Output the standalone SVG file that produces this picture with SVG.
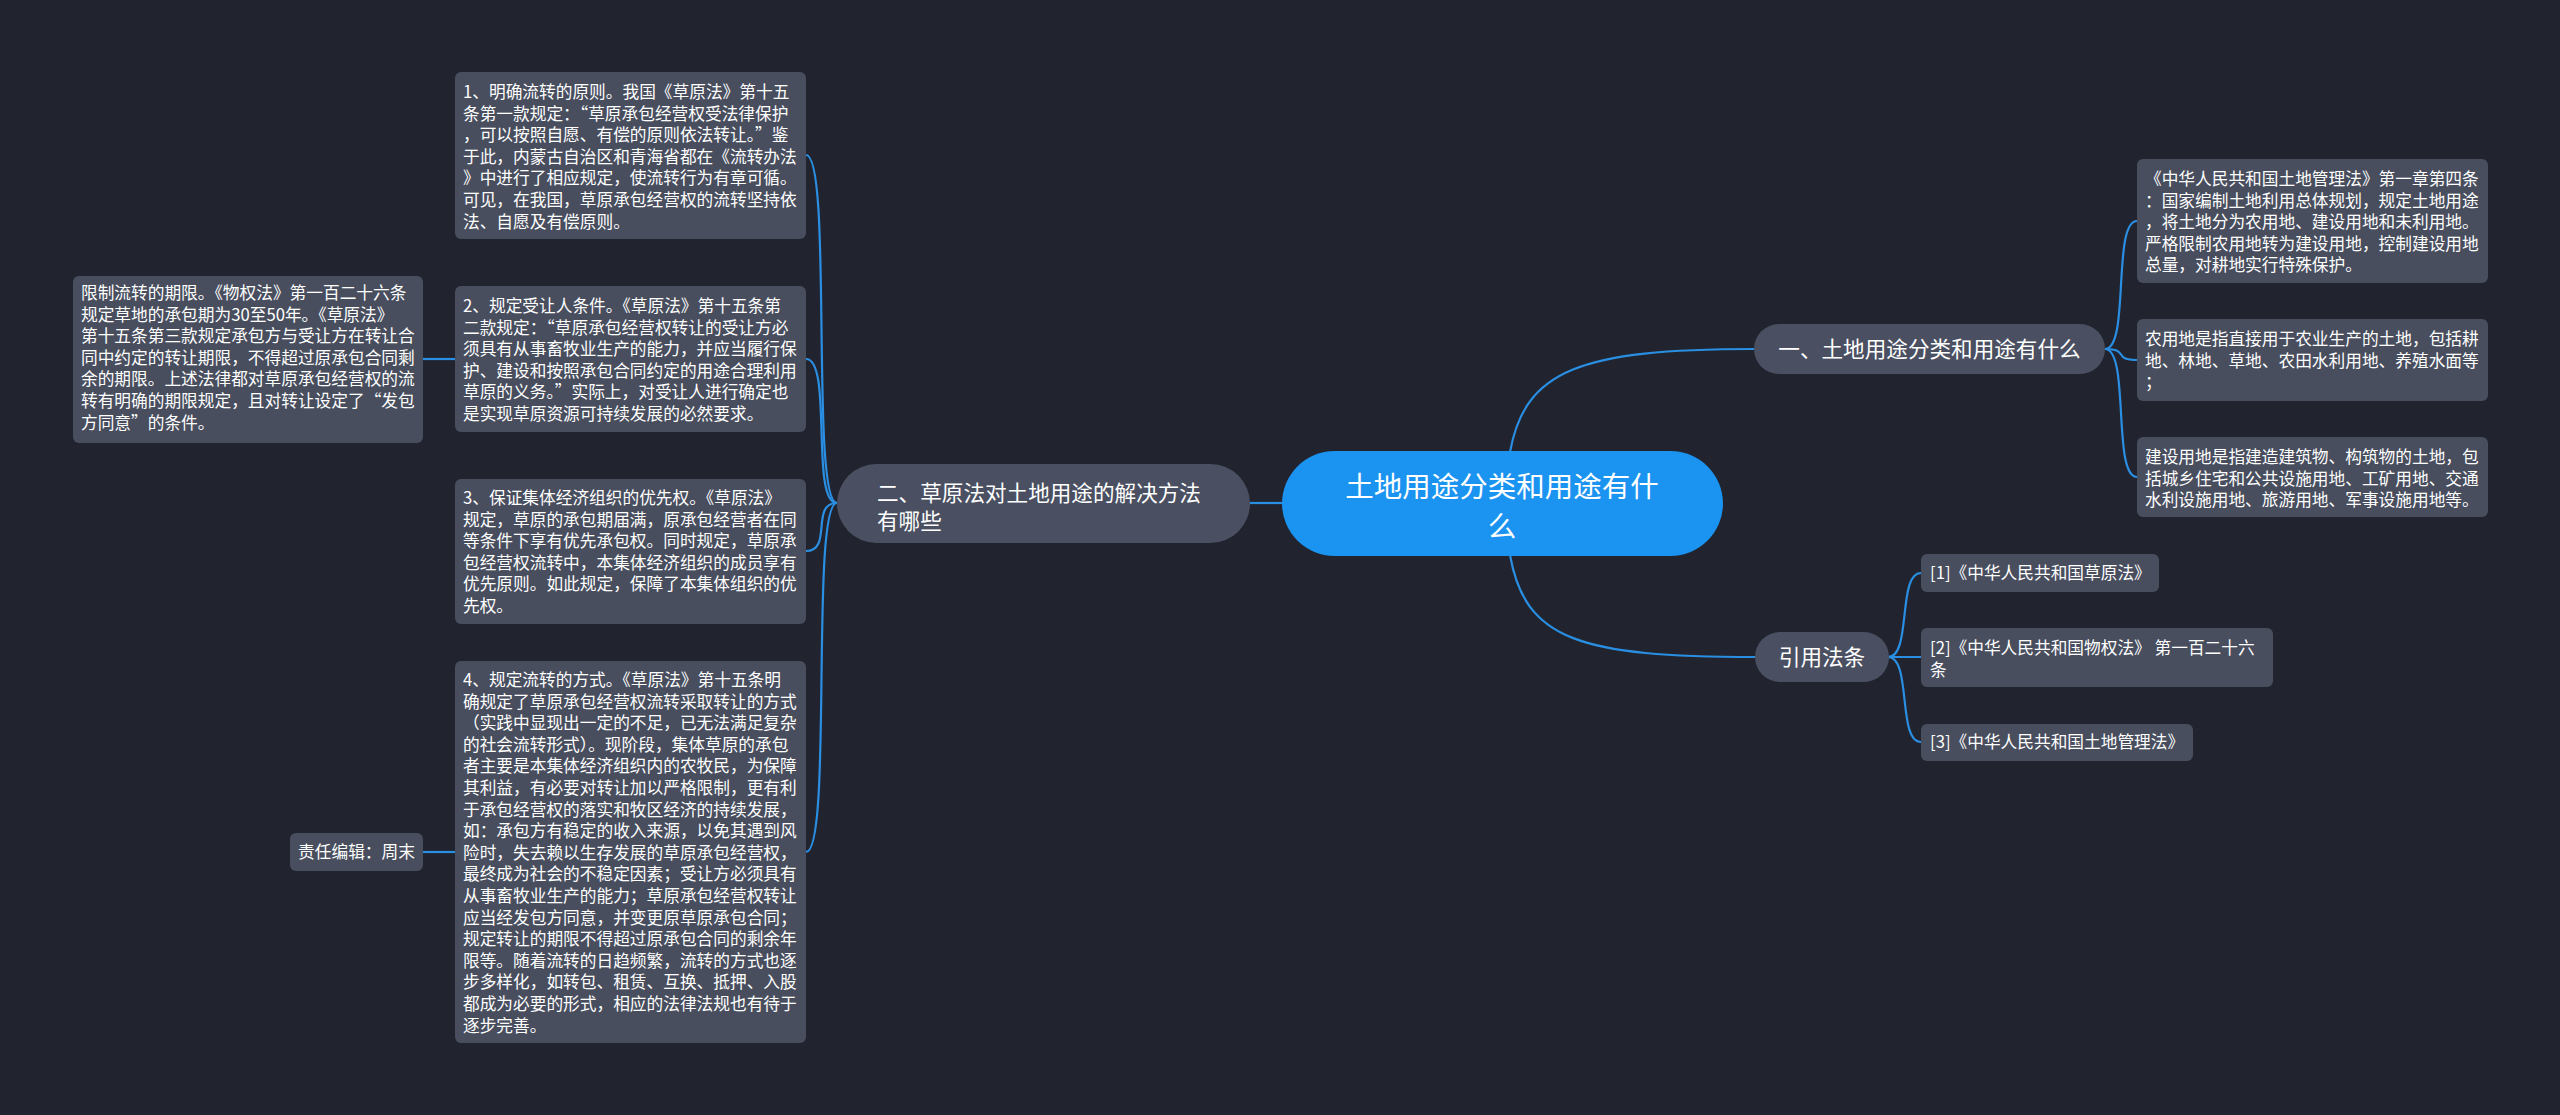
<svg xmlns="http://www.w3.org/2000/svg" width="2560" height="1115" viewBox="0 0 2560 1115">
<style>
.bg{fill:#21242e}
.leaf{fill:#484e5e}
.branch{fill:#4a5061}
.root{fill:#1b93f0}
.t{font-family:"Noto Sans CJK SC","Noto Sans",sans-serif;fill:#ffffff}
.s{font-size:16.7px}
.m{font-size:21.6px}
.r{font-size:28.5px}
.c{fill:none;stroke:#2a8ee2;stroke-width:2.2}
</style>
<rect class="bg" x="0" y="0" width="2560" height="1115"/>
<g id="connectors">
<path class="c" d="M1510 452 C1525 370 1580 349 1754 349"/>
<path class="c" d="M1510 555 C1525 640 1580 657 1756 657"/>
<path class="c" d="M1282 503 L1250 503"/>
<path class="c" d="M2105 349 C2130 349 2112 221 2137 221"/>
<path class="c" d="M2105 349 C2130 349 2112 360 2137 360"/>
<path class="c" d="M2105 349 C2130 349 2112 477 2137 477"/>
<path class="c" d="M837 503 C810 503 833 155 806 155"/>
<path class="c" d="M837 503 C810 503 833 359 806 359"/>
<path class="c" d="M837 503 C810 503 833 551 806 551"/>
<path class="c" d="M837 503 C810 503 833 852 806 852"/>
<path class="c" d="M455 359 L423 359"/>
<path class="c" d="M455 852 L423 852"/>
<path class="c" d="M1888 657 C1912 657 1897 573 1921 573"/>
<path class="c" d="M1888 657 L1921 657"/>
<path class="c" d="M1888 657 C1912 657 1897 742 1921 742"/>
</g>
<g id="root">
<rect class="root" x="1282" y="451" width="441" height="105" rx="52.5"/>
<text class="t r" x="1502" y="497" text-anchor="middle">土地用途分类和用途有什</text>
<text class="t r" x="1502" y="537" text-anchor="middle">么</text>
</g>
<g id="branch1">
<rect class="branch" x="1754" y="324" width="351" height="50" rx="25"/>
<text class="t m" x="1929.5" y="357" text-anchor="middle">一、土地用途分类和用途有什么</text>
</g>
<g id="branch2">
<rect class="branch" x="837" y="464" width="413" height="79" rx="39.5"/>
<text class="t m" x="877" y="501">二、草原法对土地用途的解决方法</text>
<text class="t m" x="877" y="529">有哪些</text>
</g>
<g id="branch3">
<rect class="branch" x="1755" y="632" width="134" height="50" rx="25"/>
<text class="t m" x="1822" y="665" text-anchor="middle">引用法条</text>
</g>
<g id="r1">
<rect class="leaf" x="2137" y="159" width="351" height="124" rx="6"/>
<text class="t s" x="2145" y="185">《中华人民共和国土地管理法》第一章第四条<tspan x="2145" dy="21.6">：国家编制土地利用总体规划，规定土地用途</tspan><tspan x="2145" dy="21.6">，将土地分为农用地、建设用地和未利用地。</tspan><tspan x="2145" dy="21.6">严格限制农用地转为建设用地，控制建设用地</tspan><tspan x="2145" dy="21.6">总量，对耕地实行特殊保护。</tspan></text>
</g>
<g id="r2">
<rect class="leaf" x="2137" y="319" width="351" height="82" rx="6"/>
<text class="t s" x="2145" y="345">农用地是指直接用于农业生产的土地，包括耕<tspan x="2145" dy="21.6">地、林地、草地、农田水利用地、养殖水面等</tspan><tspan x="2145" dy="21.6">；</tspan></text>
</g>
<g id="r3">
<rect class="leaf" x="2137" y="437" width="351" height="80" rx="6"/>
<text class="t s" x="2145" y="463">建设用地是指建造建筑物、构筑物的土地，包<tspan x="2145" dy="21.6">括城乡住宅和公共设施用地、工矿用地、交通</tspan><tspan x="2145" dy="21.6">水利设施用地、旅游用地、军事设施用地等。</tspan></text>
</g>
<g id="ref1">
<rect class="leaf" x="1921" y="554" width="238" height="38" rx="6"/>
<text class="t s" x="1930" y="579">[1]《中华人民共和国草原法》</text>
</g>
<g id="ref2">
<rect class="leaf" x="1921" y="628" width="352" height="59" rx="6"/>
<text class="t s" x="1930" y="654">[2]《中华人民共和国物权法》 第一百二十六<tspan x="1930" dy="21.6">条</tspan></text>
</g>
<g id="ref3">
<rect class="leaf" x="1921" y="724" width="272" height="37" rx="6"/>
<text class="t s" x="1930" y="748">[3]《中华人民共和国土地管理法》</text>
</g>
<g id="l1">
<rect class="leaf" x="455" y="72" width="351" height="167" rx="6"/>
<text class="t s" x="463" y="98">1、明确流转的原则。我国《草原法》第十五<tspan x="463" dy="21.6">条第一款规定：“草原承包经营权受法律保护</tspan><tspan x="463" dy="21.6">，可以按照自愿、有偿的原则依法转让。”鉴</tspan><tspan x="463" dy="21.6">于此，内蒙古自治区和青海省都在《流转办法</tspan><tspan x="463" dy="21.6">》中进行了相应规定，使流转行为有章可循。</tspan><tspan x="463" dy="21.6">可见，在我国，草原承包经营权的流转坚持依</tspan><tspan x="463" dy="21.6">法、自愿及有偿原则。</tspan></text>
</g>
<g id="l2">
<rect class="leaf" x="455" y="286" width="351" height="146" rx="6"/>
<text class="t s" x="463" y="312">2、规定受让人条件。《草原法》第十五条第<tspan x="463" dy="21.6">二款规定：“草原承包经营权转让的受让方必</tspan><tspan x="463" dy="21.6">须具有从事畜牧业生产的能力，并应当履行保</tspan><tspan x="463" dy="21.6">护、建设和按照承包合同约定的用途合理利用</tspan><tspan x="463" dy="21.6">草原的义务。”实际上，对受让人进行确定也</tspan><tspan x="463" dy="21.6">是实现草原资源可持续发展的必然要求。</tspan></text>
</g>
<g id="l3">
<rect class="leaf" x="455" y="479" width="351" height="145" rx="6"/>
<text class="t s" x="463" y="504">3、保证集体经济组织的优先权。《草原法》<tspan x="463" dy="21.6">规定，草原的承包期届满，原承包经营者在同</tspan><tspan x="463" dy="21.6">等条件下享有优先承包权。同时规定，草原承</tspan><tspan x="463" dy="21.6">包经营权流转中，本集体经济组织的成员享有</tspan><tspan x="463" dy="21.6">优先原则。如此规定，保障了本集体组织的优</tspan><tspan x="463" dy="21.6">先权。</tspan></text>
</g>
<g id="l4">
<rect class="leaf" x="455" y="661" width="351" height="382" rx="6"/>
<text class="t s" x="463" y="686">4、规定流转的方式。《草原法》第十五条明<tspan x="463" dy="21.6">确规定了草原承包经营权流转采取转让的方式</tspan><tspan x="463" dy="21.6">（实践中显现出一定的不足，已无法满足复杂</tspan><tspan x="463" dy="21.6">的社会流转形式）。现阶段，集体草原的承包</tspan><tspan x="463" dy="21.6">者主要是本集体经济组织内的农牧民，为保障</tspan><tspan x="463" dy="21.6">其利益，有必要对转让加以严格限制，更有利</tspan><tspan x="463" dy="21.6">于承包经营权的落实和牧区经济的持续发展，</tspan><tspan x="463" dy="21.6">如：承包方有稳定的收入来源，以免其遇到风</tspan><tspan x="463" dy="21.6">险时，失去赖以生存发展的草原承包经营权，</tspan><tspan x="463" dy="21.6">最终成为社会的不稳定因素；受让方必须具有</tspan><tspan x="463" dy="21.6">从事畜牧业生产的能力；草原承包经营权转让</tspan><tspan x="463" dy="21.6">应当经发包方同意，并变更原草原承包合同；</tspan><tspan x="463" dy="21.6">规定转让的期限不得超过原承包合同的剩余年</tspan><tspan x="463" dy="21.6">限等。随着流转的日趋频繁，流转的方式也逐</tspan><tspan x="463" dy="21.6">步多样化，如转包、租赁、互换、抵押、入股</tspan><tspan x="463" dy="21.6">都成为必要的形式，相应的法律法规也有待于</tspan><tspan x="463" dy="21.6">逐步完善。</tspan></text>
</g>
<g id="l5">
<rect class="leaf" x="73" y="276" width="350" height="167" rx="6"/>
<text class="t s" x="81" y="299">限制流转的期限。《物权法》第一百二十六条<tspan x="81" dy="21.6">规定草地的承包期为30至50年。《草原法》</tspan><tspan x="81" dy="21.6">第十五条第三款规定承包方与受让方在转让合</tspan><tspan x="81" dy="21.6">同中约定的转让期限，不得超过原承包合同剩</tspan><tspan x="81" dy="21.6">余的期限。上述法律都对草原承包经营权的流</tspan><tspan x="81" dy="21.6">转有明确的期限规定，且对转让设定了“发包</tspan><tspan x="81" dy="21.6">方同意”的条件。</tspan></text>
</g>
<g id="l6">
<rect class="leaf" x="290" y="833" width="133" height="38" rx="6"/>
<text class="t s" x="356.5" y="858" text-anchor="middle">责任编辑：周末</text>
</g>
</svg>
